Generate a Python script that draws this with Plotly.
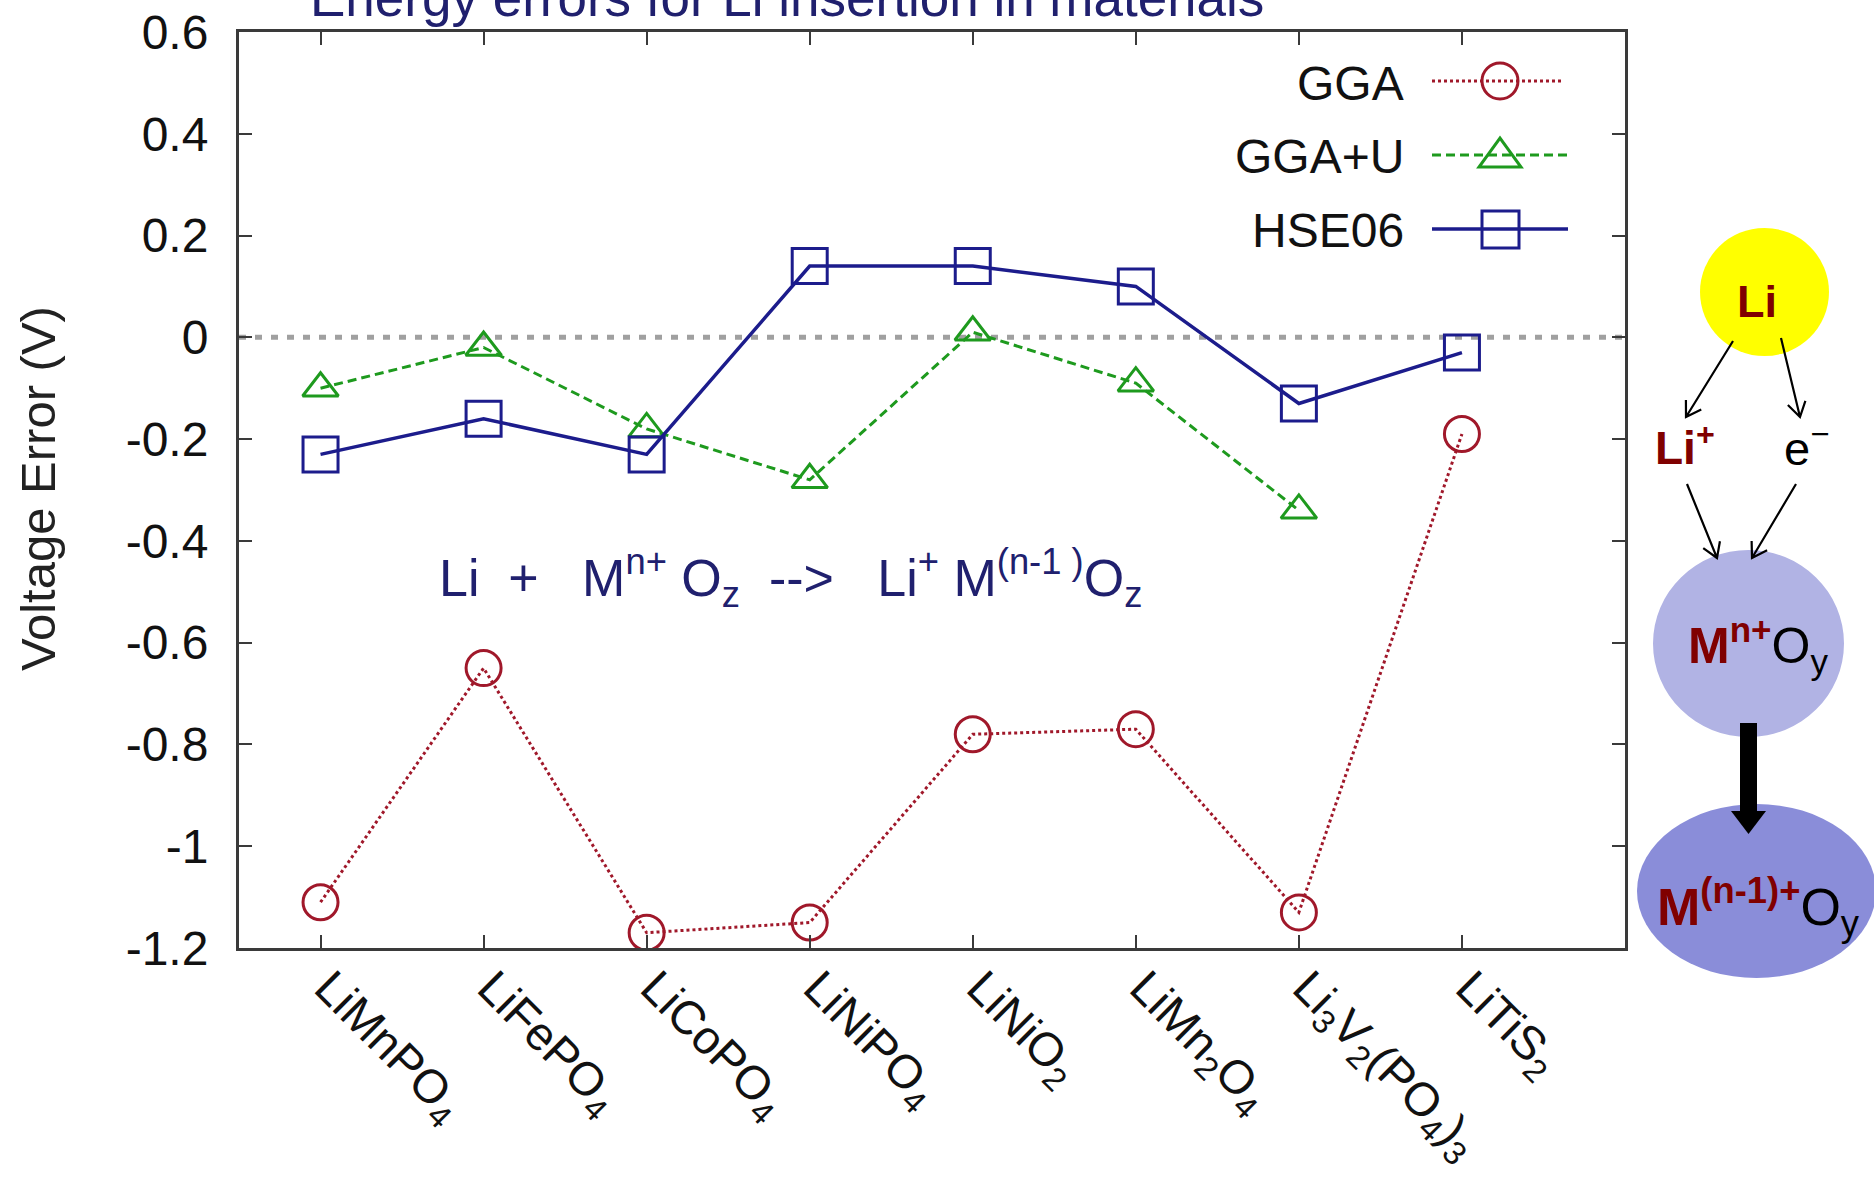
import math
import plotly.graph_objects as go

# ---------------- data ----------------
categories = ["LiMnPO<sub>4</sub>", "LiFePO<sub>4</sub>", "LiCoPO<sub>4</sub>", "LiNiPO<sub>4</sub>",
              "LiNiO<sub>2</sub>", "LiMn<sub>2</sub>O<sub>4</sub>",
              "Li<sub>3</sub>V<sub>2</sub>(PO<sub>4</sub>)<sub>3</sub>", "LiTiS<sub>2</sub>"]
gga = [-1.11, -0.65, -1.17, -1.15, -0.78, -0.77, -1.13, -0.19]
gga_u = [-0.10, -0.02, -0.18, -0.28, 0.01, -0.09, -0.34, None]
hse06 = [-0.23, -0.16, -0.23, 0.14, 0.14, 0.10, -0.13, -0.03]
series_names = ["GGA", "GGA+U", "HSE06"]
y_tick_vals = [0.6, 0.4, 0.2, 0, -0.2, -0.4, -0.6, -0.8, -1, -1.2]
y_tick_text = ["0.6", "0.4", "0.2", "0", "-0.2", "-0.4", "-0.6", "-0.8", "-1", "-1.2"]

# ---------------- style ----------------
W, H = 1874, 1179
L, R, T, B = 239, 1625, 32, 948
FONT = "Liberation Sans, Arial, Helvetica, sans-serif"
NAVY = "#20206E"
RED = "#A0182A"
GREEN = "#1E9A1E"
BLUE = "#1C1C8C"
MAROON = "#800000"


def px(xp):
    return (xp - L) / (R - L)


def py(yp):
    return (B - yp) / (B - T)


fig = go.Figure()
fig.add_trace(go.Scatter(x=categories, y=gga, name=series_names[0], mode="lines+markers",
                         line=dict(color=RED, width=3, dash="dot"),
                         marker=dict(symbol="circle-open", size=35, color=RED, line=dict(width=3, color=RED))))
fig.add_trace(go.Scatter(x=categories, y=gga_u, name=series_names[1], mode="lines+markers",
                         line=dict(color=GREEN, width=3, dash="9px,5px"),
                         marker=dict(symbol="triangle-up-open", size=31, color=GREEN, line=dict(width=3, color=GREEN))))
fig.add_trace(go.Scatter(x=categories, y=hse06, name=series_names[2], mode="lines+markers",
                         line=dict(color=BLUE, width=3.5),
                         marker=dict(symbol="square-open", size=35, color=BLUE, line=dict(width=3, color=BLUE))))

shapes = []
annotations = []

# zero reference line
shapes.append(dict(type="line", xref="paper", yref="y", x0=0, x1=1, y0=0, y1=0,
                   line=dict(color="#A0A0A0", width=5, dash="7px,9px"), layer="below"))

# ---------------- custom key (text left, sample right) ----------------
key_rows = [81, 155, 229]
for name, yrow in zip(series_names, key_rows):
    annotations.append(dict(text=name, xref="paper", yref="paper", x=px(1406), y=py(yrow + 2),
                            xanchor="right", yanchor="middle", showarrow=False,
                            font=dict(family=FONT, size=48, color="#111111")))
shapes.append(dict(type="line", xref="paper", yref="paper", x0=px(1432), x1=px(1563), y0=py(81), y1=py(81),
                   line=dict(color=RED, width=3, dash="dot")))
shapes.append(dict(type="line", xref="paper", yref="paper", x0=px(1432), x1=px(1568), y0=py(155), y1=py(155),
                   line=dict(color=GREEN, width=3, dash="9px,5px")))
shapes.append(dict(type="line", xref="paper", yref="paper", x0=px(1432), x1=px(1568), y0=py(229), y1=py(229),
                   line=dict(color=BLUE, width=3.5)))
shapes.append(dict(type="circle", xref="paper", yref="paper", x0=px(1482), x1=px(1518), y0=py(63), y1=py(99),
                   line=dict(color=RED, width=3)))
tri = [(1479, 167), (1521, 167), (1500, 138)]
shapes.append(dict(type="path", xref="paper", yref="paper",
                   path="M {} {} L {} {} L {} {} Z".format(px(tri[0][0]), py(tri[0][1]), px(tri[1][0]), py(tri[1][1]),
                                                           px(tri[2][0]), py(tri[2][1])),
                   line=dict(color=GREEN, width=3)))
shapes.append(dict(type="rect", xref="paper", yref="paper", x0=px(1482), x1=px(1519), y0=py(211), y1=py(248),
                   line=dict(color=BLUE, width=3)))

# ---------------- title & equation ----------------
annotations.append(dict(text="Energy errors for Li insertion in materials", xref="paper", yref="paper",
                        x=px(308), y=py(-2), xanchor="left", yanchor="middle", showarrow=False,
                        font=dict(family=FONT, size=53, color=NAVY)))
nb = "\u00a0"
eq = ("Li" + nb * 2 + "+" + nb * 3 + "M<sup>n+</sup>" + nb + "O<sub>z</sub>" + nb * 2 + "--&gt;" + nb * 3 +
      "Li<sup>+</sup>" + nb + "M<sup>(n-1 )</sup>O<sub>z</sub>")
annotations.append(dict(text=eq, xref="paper", yref="paper", x=px(437), y=py(578), xanchor="left",
                        yanchor="middle", showarrow=False, font=dict(family=FONT, size=52, color=NAVY)))

# y-axis title
annotations.append(dict(text="Voltage Error (V)", xref="paper", yref="paper", x=px(38), y=py(489),
                        xanchor="center", yanchor="middle", textangle=-90, showarrow=False,
                        font=dict(family=FONT, size=49, color="#222222")))

# ---------------- right-hand diagram ----------------
shapes.append(dict(type="circle", xref="paper", yref="paper", x0=px(1700), x1=px(1829), y0=py(228), y1=py(356),
                   fillcolor="#FFFF00", line=dict(width=0), layer="below"))
shapes.append(dict(type="circle", xref="paper", yref="paper", x0=px(1653), x1=px(1844), y0=py(550), y1=py(737),
                   fillcolor="#B1B3E4", line=dict(width=0), layer="below"))
shapes.append(dict(type="circle", xref="paper", yref="paper", x0=px(1637), x1=px(1876), y0=py(804), y1=py(978),
                   fillcolor="#8A8DD9", line=dict(width=0), layer="below"))


def arrow(x0, y0, x1, y1, head=17, ang=32):
    dx, dy = x1 - x0, y1 - y0
    ln = math.hypot(dx, dy)
    ux, uy = dx / ln, dy / ln
    a = math.radians(ang)
    pts = []
    for s in (1, -1):
        rx = ux * math.cos(a) - s * uy * math.sin(a)
        ry = s * ux * math.sin(a) + uy * math.cos(a)
        pts.append((x1 - head * rx, y1 - head * ry))
    p = "M {} {} L {} {} M {} {} L {} {} L {} {}".format(
        px(x0), py(y0), px(x1), py(y1),
        px(pts[0][0]), py(pts[0][1]), px(x1), py(y1), px(pts[1][0]), py(pts[1][1]))
    return dict(type="path", xref="paper", yref="paper", path=p, line=dict(color="#000000", width=2.2))


shapes.append(arrow(1733, 341, 1686, 417))
shapes.append(arrow(1781, 338, 1800, 417))
shapes.append(arrow(1687, 484, 1717, 558))
shapes.append(arrow(1796, 484, 1752, 558))

shapes.append(dict(type="rect", xref="paper", yref="paper", x0=px(1740), x1=px(1757), y0=py(723), y1=py(812),
                   fillcolor="#000000", line=dict(width=0)))
shapes.append(dict(type="path", xref="paper", yref="paper",
                   path="M {} {} L {} {} L {} {} Z".format(px(1731), py(811), px(1766), py(811), px(1748.5), py(834)),
                   fillcolor="#000000", line=dict(width=0)))

annotations.append(dict(text="<b>Li</b>", xref="paper", yref="paper", x=px(1757), y=py(302), xanchor="center",
                        yanchor="middle", showarrow=False, font=dict(family=FONT, size=45, color=MAROON)))
annotations.append(dict(text="<b>Li<sup>+</sup></b>", xref="paper", yref="paper", x=px(1685), y=py(445),
                        xanchor="center", yanchor="middle", showarrow=False,
                        font=dict(family=FONT, size=46, color=MAROON)))
annotations.append(dict(text="e<sup>\u2212</sup>", xref="paper", yref="paper", x=px(1806), y=py(445),
                        xanchor="center", yanchor="middle", showarrow=False,
                        font=dict(family=FONT, size=47, color="#000000")))
annotations.append(dict(text="<span style='color:#800000'><b>M<sup>n+</sup></b></span>O<sub>y</sub>",
                        xref="paper", yref="paper", x=px(1758), y=py(645), xanchor="center", yanchor="middle",
                        showarrow=False, font=dict(family=FONT, size=50, color="#000000")))
annotations.append(dict(text="<span style='color:#800000'><b>M<sup>(n-1)+</sup></b></span>O<sub>y</sub>",
                        xref="paper", yref="paper", x=px(1758), y=py(907), xanchor="center", yanchor="middle",
                        showarrow=False, font=dict(family=FONT, size=52, color="#000000")))

fig.update_layout(
    width=W, height=H,
    margin=dict(l=L, r=W - R, t=T, b=H - B, pad=0, autoexpand=False),
    paper_bgcolor="white", plot_bgcolor="white",
    showlegend=False,
    shapes=shapes, annotations=annotations,
    font=dict(family=FONT, color="#111111"),
)
fig.update_xaxes(type="category", range=[-0.5, 8], showgrid=False, zeroline=False, automargin=False,
                 showline=True, linecolor="#3A3A3A", linewidth=3, mirror="ticks",
                 ticks="inside", ticklen=13, tickwidth=2, tickcolor="#3A3A3A",
                 ticklabelstandoff=-10, ticklabelshift=8,
                 tickangle=45, tickfont=dict(family=FONT, size=47, color="#111111"))
fig.update_yaxes(range=[-1.2, 0.6], tickvals=y_tick_vals, ticktext=y_tick_text, showgrid=False, zeroline=False,
                 automargin=False,
                 showline=True, linecolor="#3A3A3A", linewidth=3, mirror="ticks",
                 ticks="inside", ticklen=13, tickwidth=2, tickcolor="#3A3A3A", ticklabelstandoff=18,
                 tickfont=dict(family=FONT, size=48, color="#111111"))

fig.write_html("out.html", config={"displayModeBar": False},
               post_script="document.body.style.margin='0px';")
